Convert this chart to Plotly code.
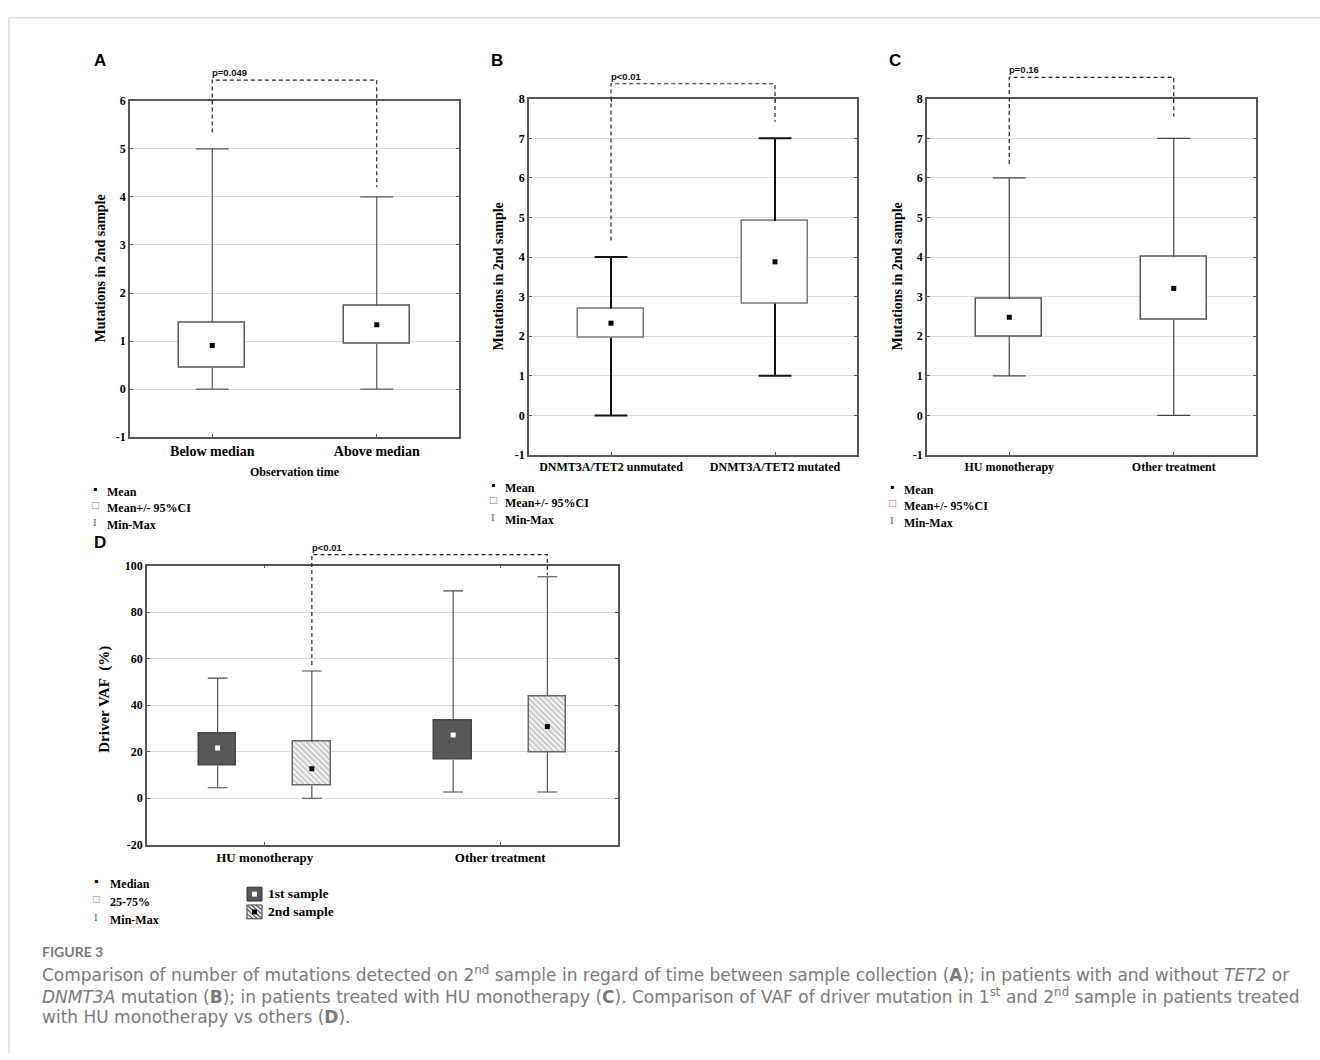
import plotly.graph_objects as go

W, H = 1320, 1060

# ---------------- data ----------------
# Panels A-C: mutations in 2nd sample (mean, 95% CI, min-max)
A_CATS = ["Below median", "Above median"]
A_MIN = [0, 0]
A_MAX = [5, 4]
A_CI_LO = [0.45, 0.95]
A_CI_HI = [1.39, 1.73]
A_MEAN = [0.91, 1.34]

B_CATS = ["DNMT3A/TET2 unmutated", "DNMT3A/TET2 mutated"]
B_MIN = [0, 1]
B_MAX = [4, 7]
B_CI_LO = [1.96, 2.83]
B_CI_HI = [2.70, 4.91]
B_MEAN = [2.33, 3.88]

C_CATS = ["HU monotherapy", "Other treatment"]
C_MIN = [1, 0]
C_MAX = [6, 7]
C_CI_LO = [1.99, 2.42]
C_CI_HI = [2.95, 4.00]
C_MEAN = [2.48, 3.21]

# Panel D: driver VAF (%) (median, 25-75%, min-max), 1st and 2nd sample
D_CATS = ["HU monotherapy", "Other treatment"]
D1_MIN = [4.5, 2.7]
D1_MAX = [51.6, 89.1]
D1_Q1 = [14.0, 16.5]
D1_Q3 = [28.0, 33.5]
D1_MED = [21.6, 27.2]
D2_MIN = [0.0, 2.7]
D2_MAX = [54.7, 95.2]
D2_Q1 = [5.5, 19.8]
D2_Q3 = [24.2, 43.9]
D2_MED = [12.7, 30.8]

# significance brackets (A, B, C, D)
P_TEXT = ["p=0.049", "p<0.01", "p=0.16", "p<0.01"]
BRACKET_TOP = [6.43, 8.38, 8.54, 104.7]
BRACKET_LEFT_END = [5.34, 4.42, 6.35, 57.3]
BRACKET_RIGHT_END = [4.20, 7.42, 7.55, 95.8]

Y_TICKS_A = [-1, 0, 1, 2, 3, 4, 5, 6]
Y_TICKS_BC = [-1, 0, 1, 2, 3, 4, 5, 6, 7, 8]
Y_TICKS_D = [-20, 0, 20, 40, 60, 80, 100]

# ---------------- layout geometry (pixels) ----------------
PANELS = [
    dict(name="A", x0=130, x1=459, y0=95, y1=436, yr=(-1, 6), ticks=Y_TICKS_A,
         ext_top=58, cats=A_CATS, catsize=14),
    dict(name="B", x0=529, x1=857, y0=93, y1=454, yr=(-1, 8), ticks=Y_TICKS_BC,
         ext_top=60, cats=B_CATS, catsize=12),
    dict(name="C", x0=927, x1=1256, y0=93, y1=454, yr=(-1, 8), ticks=Y_TICKS_BC,
         ext_top=54, cats=C_CATS, catsize=12),
    dict(name="D", x0=147, x1=618, y0=566, y1=849, yr=(-20, 100), ticks=Y_TICKS_D,
         ext_top=538, cats=D_CATS, catsize=13),
]

SERIF = "Liberation Serif"
SANS = "Liberation Sans"


def fx(px):
    return px / W


def fy(py):
    return 1 - py / H


def whisker_xy(xs, lo, hi, mn, mx, cap):
    X, Y = [], []
    for x, l, h, a, b in zip(xs, lo, hi, mn, mx):
        X += [x, x, None, x, x, None, x - cap, x + cap, None, x - cap, x + cap, None]
        Y += [a, l, None, h, b, None, a, a, None, b, b, None]
    return X, Y


fig = go.Figure()
CENTERS = [0.5, 1.5]


def add_mean_panel(k, mn, mx, lo, hi, mean, wcolor, wwidth, bcolor):
    xa, ya = f"x{k}", f"y{k}"
    wx, wy = whisker_xy(CENTERS, lo, hi, mn, mx, 0.1)
    fig.add_trace(go.Scatter(x=wx, y=wy, mode="lines", xaxis=xa, yaxis=ya,
                             line=dict(color=wcolor, width=wwidth), hoverinfo="skip"))
    fig.add_trace(go.Bar(x=CENTERS, y=[h - l for l, h in zip(lo, hi)], base=lo,
                         width=0.4, xaxis=xa, yaxis=ya,
                         marker=dict(color="white", line=dict(color=bcolor, width=1.5))))
    fig.add_trace(go.Scatter(x=CENTERS, y=mean, mode="markers", xaxis=xa, yaxis=ya,
                             marker=dict(symbol="square", size=5, color="black")))


add_mean_panel(1, A_MIN, A_MAX, A_CI_LO, A_CI_HI, A_MEAN, "#555", 1.2, "#555")
add_mean_panel(2, B_MIN, B_MAX, B_CI_LO, B_CI_HI, B_MEAN, "#111", 2.0, "#777")
add_mean_panel(3, C_MIN, C_MAX, C_CI_LO, C_CI_HI, C_MEAN, "#444", 1.2, "#555")

# Panel D: grouped boxes, 1st sample left, 2nd sample right of each category
OFF = 0.2
D1_X = [c - OFF for c in CENTERS]
D2_X = [c + OFF for c in CENTERS]
for xs, mn, mx, q1, q3 in [(D1_X, D1_MIN, D1_MAX, D1_Q1, D1_Q3),
                           (D2_X, D2_MIN, D2_MAX, D2_Q1, D2_Q3)]:
    wx, wy = whisker_xy(xs, q1, q3, mn, mx, 0.042)
    fig.add_trace(go.Scatter(x=wx, y=wy, mode="lines", xaxis="x4", yaxis="y4",
                             line=dict(color="#444", width=1.1), hoverinfo="skip"))
fig.add_trace(go.Bar(x=D1_X, y=[b - a for a, b in zip(D1_Q1, D1_Q3)], base=D1_Q1,
                     width=0.16, xaxis="x4", yaxis="y4", name="1st sample",
                     marker=dict(color="#575757", line=dict(color="#444", width=1.5))))
fig.add_trace(go.Bar(x=D2_X, y=[b - a for a, b in zip(D2_Q1, D2_Q3)], base=D2_Q1,
                     width=0.16, xaxis="x4", yaxis="y4", name="2nd sample",
                     marker=dict(color="#eeeeee",
                                 pattern=dict(shape="\\", size=4, solidity=0.35,
                                              fgcolor="#888", bgcolor="#f2f2f2"),
                                 line=dict(color="#666", width=1.5))))
fig.add_trace(go.Scatter(x=D1_X, y=D1_MED, mode="markers", xaxis="x4", yaxis="y4",
                         marker=dict(symbol="square", size=5, color="white")))
fig.add_trace(go.Scatter(x=D2_X, y=D2_MED, mode="markers", xaxis="x4", yaxis="y4",
                         marker=dict(symbol="square", size=5, color="black")))

# ---------------- axes ----------------
layout_axes = {}
annotations = []
for i, p in enumerate(PANELS):
    k = i + 1
    ymin, ymax = p["yr"]
    layout_axes[f"xaxis{k}"] = dict(
        domain=[fx(p["x0"]), fx(p["x1"])], range=[0, 2], anchor=f"y{k}",
        tickvals=CENTERS, ticktext=p["cats"], showgrid=False, zeroline=False,
        showline=True, linecolor="#555", linewidth=1.5, mirror="ticks",
        ticks="inside", ticklen=3, tickcolor="#555",
        tickfont=dict(family=SERIF, size=p["catsize"], color="black", weight="bold"))
    layout_axes[f"yaxis{k}"] = dict(
        domain=[fy(p["y1"]), fy(p["y0"])], range=[ymin, ymax], anchor=f"x{k}",
        tickvals=p["ticks"], ticktext=[str(t) for t in p["ticks"]],
        showgrid=True, gridcolor="#dcdcdc", gridwidth=1, zeroline=False,
        showline=True, linecolor="#555", linewidth=1.5, mirror="ticks",
        ticks="inside", ticklen=3, tickcolor="#555",
        tickfont=dict(family=SERIF, size=12, color="black", weight="bold"))

    # hidden companion axes with the same data scale, extended upwards for the bracket
    kb = k + 4
    ext = ymin + (ymax - ymin) * (p["y1"] - p["ext_top"]) / (p["y1"] - p["y0"])
    layout_axes[f"xaxis{kb}"] = dict(domain=[fx(p["x0"]), fx(p["x1"])], range=[0, 2],
                                     anchor=f"y{kb}", visible=False)
    layout_axes[f"yaxis{kb}"] = dict(domain=[fy(p["y1"]), fy(p["ext_top"])],
                                     range=[ymin, ext], anchor=f"x{kb}", visible=False)

    if p["name"] == "D":
        bl, br = D2_X
    else:
        bl, br = CENTERS
    fig.add_trace(go.Scatter(
        x=[bl, bl, br, br],
        y=[BRACKET_LEFT_END[i], BRACKET_TOP[i], BRACKET_TOP[i], BRACKET_RIGHT_END[i]],
        mode="lines", xaxis=f"x{kb}", yaxis=f"y{kb}",
        line=dict(color="#222", width=1.2, dash="4px,3px"), hoverinfo="skip"))
    annotations.append(dict(
        x=bl, y=BRACKET_TOP[i], xref=f"x{kb}", yref=f"y{kb}", text=P_TEXT[i],
        showarrow=False, xanchor="left", yanchor="bottom", yshift=0, xshift=-2,
        font=dict(family=SANS, size=9.5, color="#111", weight="bold")))

# ---------------- text annotations ----------------
def ann(x, y, text, size, family=SERIF, weight="bold", color="black",
        xanchor="center", angle=0):
    annotations.append(dict(
        x=fx(x), y=fy(y), xref="paper", yref="paper", text=text, showarrow=False,
        xanchor=xanchor, yanchor="middle", textangle=angle,
        font=dict(family=family, size=size, color=color, weight=weight)))


# panel letters
for letter, x, y in [("A", 100, 54), ("B", 497, 54), ("C", 895, 54), ("D", 100, 543)]:
    ann(x, y, letter, 17, family=SANS)

# y-axis titles
ann(100, 265, "Mutations in 2nd sample", 14, angle=-90)
ann(498, 273, "Mutations in 2nd sample", 14, angle=-90)
ann(897, 273, "Mutations in 2nd sample", 14, angle=-90)
ann(105, 702, "Driver VAF\u00a0 (%)", 15, angle=-90)

# x-axis title (A)
ann(294.5, 471, "Observation time", 12)

# statistics keys
def key(xs, xt, ys, labels):
    syms = [("\u25aa", "black", 12), ("\u25a1", "#b07070", 12), ("I", "#666", 11)]
    for (s, c, sz), y, lab in zip(syms, ys, labels):
        ann(xs, y - 3, s, sz, color=c, weight="normal")
        ann(xt, y, lab, 12, xanchor="left")


key(95, 105, [491, 508, 525], ["Mean", "Mean+/- 95%CI", "Min-Max"])
key(493, 503, [487, 503, 520], ["Mean", "Mean+/- 95%CI", "Min-Max"])
key(892, 902, [489, 506, 523], ["Mean", "Mean+/- 95%CI", "Min-Max"])
key(96, 108, [889, 907, 925], ["Median", "25-75%", "Min-Max"])

# sample key for panel D
ann(266, 898, "1st sample", 13.5, xanchor="left")
ann(266, 917, "2nd sample", 13.5, xanchor="left")

shapes = []


def prect(x0, y0, x1, y1, fill, line, lw=1):
    shapes.append(dict(type="rect", xref="paper", yref="paper",
                       x0=fx(x0), x1=fx(x1), y0=fy(y1), y1=fy(y0),
                       fillcolor=fill, line=dict(color=line, width=lw)))


def pline(x0, y0, x1, y1, color, lw=1):
    shapes.append(dict(type="line", xref="paper", yref="paper",
                       x0=fx(x0), x1=fx(x1), y0=fy(y0), y1=fy(y1),
                       line=dict(color=color, width=lw)))


prect(247, 892, 262, 906, "#575757", "#333", 1)
prect(252, 896.5, 257, 901.5, "white", "white", 0)
prect(247, 910, 262, 924, "#eeeeee", "#333", 1)
for d in (-9, -4.5, 0, 4.5, 9):
    x0, y0 = 247 + max(0, d), 910 + max(0, -d)
    x1, y1 = 262 - max(0, -d), 924 - max(0, d)
    pline(x0, y0, x1, y1, "#555", 1.2)
prect(252, 914.5, 257, 919.5, "black", "black", 0)

# page frame
pline(9, 11, 9, H, "#c8c8c8", 1)
pline(9, 11, W, 11, "#c8c8c8", 1)

# ---------------- caption ----------------
ann(40, 957, "FIGURE 3", 14, family="Lato", weight="bold", color="#777",
    xanchor="left")
CAPTION = [
    "Comparison of number of mutations detected on 2<sup>nd</sup> sample in regard of time "
    "between sample collection (<b>A</b>); in patients with and without <i>TET2</i> or",
    "<i>DNMT3A</i> mutation (<b>B</b>); in patients treated with HU monotherapy (<b>C</b>). "
    "Comparison of VAF of driver mutation in 1<sup>st</sup> and 2<sup>nd</sup> sample in "
    "patients treated",
    "with HU monotherapy vs others (<b>D</b>).",
]
for line, y in zip(CAPTION, [980, 1002, 1024]):
    ann(40, y, line, 17, family="DejaVu Sans", weight="normal", color="#7a7a7a",
        xanchor="left")

fig.update_layout(
    width=W, height=H, margin=dict(l=0, r=0, t=0, b=0),
    paper_bgcolor="white", plot_bgcolor="rgba(0,0,0,0)",
    showlegend=False, barmode="overlay", bargap=0,
    annotations=annotations, shapes=shapes, **layout_axes)

fig.write_html("out.html")
